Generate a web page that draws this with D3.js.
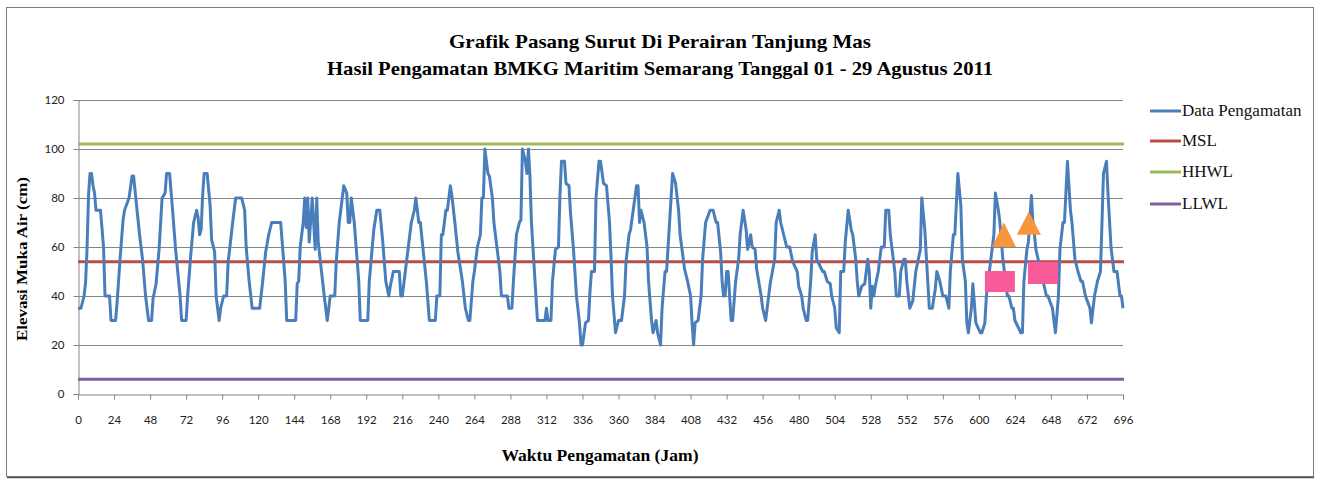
<!DOCTYPE html>
<html><head><meta charset="utf-8">
<script src="https://cdn.jsdelivr.net/npm/d3@7"></script>
<style>body{margin:0;background:#fff}svg{display:block}</style>
</head><body>
<svg id="c" width="1320" height="482"></svg>
<script>
const hours = [0,2,4,5,6,7,8,9,10,11,12,15,17,18,21,22,25,26,28,30,31,34,36,37,39,41,43,45,47,49,50,52,54,56,58,59,61,63,65,68,69,72,73,75,77,79,80,81,82,83,84,86,88,89,91,92,94,95,97,99,100,101,103,105,109,111,112,114,116,121,123,125,127,129,135,136,138,139,145,146,147,148,150,151,152,153,154,156,158,159,160,162,164,166,167,168,171,172,174,176,177,179,180,181,182,184,185,187,188,193,194,196,197,199,201,203,205,207,208,210,214,215,216,218,220,221,222,224,225,227,228,230,232,234,238,239,241,242,243,245,246,248,249,251,253,256,258,260,261,263,264,266,268,269,270,271,273,274,276,277,279,281,282,286,287,289,290,292,294,295,296,298,299,300,301,302,304,306,311,312,313,315,316,318,320,321,322,324,325,327,328,330,332,334,335,336,338,340,341,342,344,345,347,348,350,352,354,355,356,358,360,362,364,365,367,368,372,373,374,375,377,379,380,382,383,385,386,388,389,391,392,395,396,398,400,401,404,406,408,409,410,411,413,415,416,418,421,423,425,426,428,429,430,431,432,433,435,436,438,440,441,443,445,446,448,449,451,452,455,456,458,460,461,464,465,467,468,470,472,474,476,479,480,482,483,485,486,488,489,491,492,496,497,499,501,502,504,505,507,508,510,511,513,515,516,518,519,520,522,524,525,526,527,528,529,530,531,533,535,537,538,540,541,542,544,545,547,548,550,551,552,554,556,558,561,562,564,567,569,571,572,574,576,578,580,581,583,584,586,588,589,591,592,593,595,596,598,601,602,604,605,607,610,611,613,614,616,619,620,622,623,624,628,629,630,632,633,635,636,637,638,645,646,649,651,653,654,656,657,659,661,662,664,666,668,669,671,674,675,677,679,681,683,685,686,688,690,692,694,695,696];
const elevation = [35,35,40,45,59,81,90,90,85,82,75,75,60,40,40,30,30,37,55,71,75,80,89,89,77,65,55,40,30,30,39,45,59,80,82,90,90,75,59,40,30,30,40,56,70,75,72,65,67,81,90,90,77,63,58,40,30,35,40,40,54,59,70,80,80,75,60,46,35,35,46,58,65,70,70,62,46,30,30,45,46,60,70,80,68,80,62,80,59,80,62,51,40,30,35,40,40,54,70,80,85,82,70,70,80,70,62,46,30,30,46,60,67,75,75,62,46,40,44,50,50,40,40,50,60,65,70,75,80,70,70,58,46,30,30,40,40,65,65,75,75,85,81,70,58,46,35,30,30,46,50,60,65,80,80,100,90,89,80,70,60,50,40,40,35,35,46,65,70,71,100,95,90,100,89,70,50,30,30,35,30,30,46,59,60,81,95,95,86,85,74,59,40,29,20,20,29,30,42,50,50,80,95,95,86,85,70,56,40,25,30,30,40,54,65,67,85,85,70,75,70,60,46,30,25,30,25,20,35,50,50,80,90,86,75,65,51,46,40,29,20,29,30,40,55,70,75,75,70,70,58,46,40,40,50,50,30,30,46,55,65,75,67,59,65,60,59,51,40,35,30,40,45,55,70,75,70,65,60,60,54,50,44,40,35,30,30,46,58,65,55,50,50,46,45,40,35,27,25,50,50,62,75,67,65,55,46,40,44,45,50,55,50,35,44,40,44,50,60,60,75,75,65,60,50,40,40,50,55,55,46,35,38,50,59,80,67,35,35,43,50,46,40,40,35,50,65,65,90,77,55,46,29,25,35,45,29,25,25,29,40,50,65,82,75,70,55,40,40,35,35,30,25,25,46,59,62,81,70,65,59,40,40,35,25,40,59,70,70,95,75,70,55,50,46,46,40,35,29,40,46,50,90,95,82,60,50,50,40,40,35,30];
const refNames = ["MSL","HHWL","LLWL"];
const refValues = [54,102,6];
const legendLabels = ["Data Pengamatan","MSL","HHWL","LLWL"];
const yTicks = [0,20,40,60,80,100,120];
const xTicks = d3.range(0,697,24);
// annotation shapes (data space)
const triangles = [[616.7,70,60],[633.3,74.5,65]]; // hour, apex value, base value
const rects = [[604,624,50.2,41.6],[632.7,652.7,53.9,44.9]]; // h0,h1,vTop,vBottom

const colors = {data:"#4a7ebb",MSL:"#be4b48",HHWL:"#9bbb59",LLWL:"#7d60a0"};
const svg = d3.select("#c");
const L=78,R=1123,T=100,B=394;
const x = d3.scaleLinear().domain([0,696]).range([L,R]);
const y = d3.scaleLinear().domain([0,120]).range([B,T]);

// outer border
svg.append("rect").attr("x",6.5).attr("y",7.5).attr("width",1307).attr("height",469)
  .attr("fill","#fff").attr("stroke","#7f7f7f").attr("stroke-width",1);
svg.append("line").attr("x1",7).attr("x2",1314).attr("y1",477.5).attr("y2",477.5).attr("stroke","#555").attr("stroke-width",1.5);

// grid
svg.append("g").selectAll("line").data(yTicks.filter(d=>d>0)).join("line")
  .attr("x1",L).attr("x2",R).attr("y1",d=>Math.round(y(d))+0.5).attr("y2",d=>Math.round(y(d))+0.5)
  .attr("stroke","#858585").attr("stroke-width",1);

// axes
const yAxis = d3.axisLeft(y).tickValues(yTicks).tickSize(5).tickPadding(9);
const gy = svg.append("g").attr("transform",`translate(${L+0.5},0)`).call(yAxis);
const xAxis = d3.axisBottom(x).tickValues(xTicks).tickSize(5).tickPadding(16);
const gx = svg.append("g").attr("transform",`translate(0,${B+0.5})`).call(xAxis);
[gy,gx].forEach(g=>{
  g.select(".domain").attr("stroke","#858585");
  g.selectAll(".tick line").attr("stroke","#858585");
  g.selectAll("text").attr("font-family","Lato, 'Open Sans', sans-serif").attr("font-size",11.5).attr("fill","#222");
});

// reference lines
svg.append("g").selectAll("line").data(refNames).join("line")
  .attr("x1",L).attr("x2",R+1).attr("y1",(d,i)=>y(refValues[i])).attr("y2",(d,i)=>y(refValues[i]))
  .attr("stroke",d=>colors[d]).attr("stroke-width",3);

// data line
const pts = hours.map((h,i)=>[h,elevation[i]]);
svg.append("path").datum(pts)
  .attr("d",d3.line().x(d=>x(d[0])).y(d=>y(d[1])))
  .attr("fill","none").attr("stroke",colors.data).attr("stroke-width",3).attr("stroke-linejoin","round");

// annotation shapes
svg.append("g").selectAll("rect").data(rects).join("rect")
  .attr("x",d=>x(d[0])).attr("width",d=>x(d[1])-x(d[0]))
  .attr("y",d=>y(d[2])).attr("height",d=>y(d[3])-y(d[2])).attr("fill","#f85c98");
svg.append("g").selectAll("path").data(triangles).join("path")
  .attr("d",d=>{const cx=x(d[0]),ty=y(d[1]),by=y(d[2]);return `M${cx},${ty}L${cx+12},${by}L${cx-12},${by}Z`;})
  .attr("fill","#f7963a");

// titles
const serif = "'Liberation Serif','DejaVu Serif',serif";
svg.append("text").attr("x",660).attr("y",48).attr("text-anchor","middle")
  .attr("font-family",serif).attr("font-weight","bold").attr("font-size",19)
  .attr("textLength",422).attr("lengthAdjust","spacingAndGlyphs")
  .text("Grafik Pasang Surut  Di Perairan Tanjung Mas");
svg.append("text").attr("x",660).attr("y",75).attr("text-anchor","middle")
  .attr("font-family",serif).attr("font-weight","bold").attr("font-size",19)
  .attr("textLength",666).attr("lengthAdjust","spacingAndGlyphs")
  .text("Hasil Pengamatan BMKG  Maritim Semarang Tanggal 01 - 29 Agustus 2011");
svg.append("text").attr("x",600).attr("y",461).attr("text-anchor","middle")
  .attr("font-family",serif).attr("font-weight","bold").attr("font-size",16)
  .attr("textLength",197).attr("lengthAdjust","spacingAndGlyphs")
  .text("Waktu Pengamatan (Jam)");
svg.append("text").attr("transform","translate(27,259) rotate(-90)").attr("text-anchor","middle")
  .attr("font-family",serif).attr("font-weight","bold").attr("font-size",15)
  .attr("textLength",164).attr("lengthAdjust","spacingAndGlyphs")
  .text("Elevasi Muka Air (cm)");

// legend
const lg = svg.append("g");
const legColors = [colors.data,colors.MSL,colors.HHWL,colors.LLWL];
const legY = [111,141,172,204];
legendLabels.forEach((t,i)=>{
  lg.append("line").attr("x1",1150).attr("x2",1181).attr("y1",legY[i]).attr("y2",legY[i])
    .attr("stroke",legColors[i]).attr("stroke-width",3);
  lg.append("text").attr("x",1182).attr("y",legY[i]+5).attr("font-family",serif)
    .attr("font-size",17).attr("fill","#111").text(t);
});
</script>
</body></html>
